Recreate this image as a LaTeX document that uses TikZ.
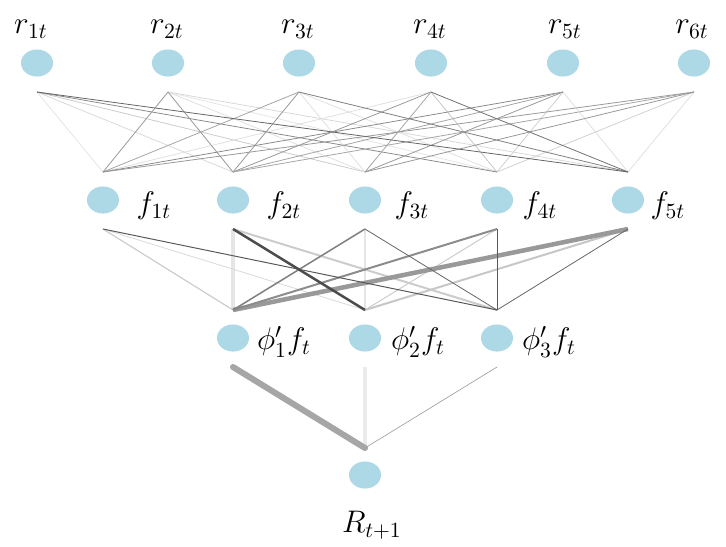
\documentclass[tikz,border=0pt]{standalone}
\usetikzlibrary{shapes.geometric}
\definecolor{nodeblue}{RGB}{173,216,230}
\begin{document}
\begin{tikzpicture}[x=0.4615pt,y=-0.4615pt,
  neuron/.style={ellipse, fill=nodeblue, minimum width=14.8pt, minimum height=12.5pt, inner sep=0pt},
  lbl/.style={inner sep=0pt, font=\fontsize{14.4}{17}\selectfont},
  rf/.style={line width=0.37pt}]
\useasboundingbox (0,0) rectangle (726,546);
% input layer
\foreach \i/\x in {1/37,2/168,3/299,4/431,5/563,6/694}{
  \node[neuron] (r\i) at (\x,63) {};
  \coordinate (r\i b) at (\x,92);
}
\node[lbl] (lr1) at (31,29) {$r_{1t}$};
\node[lbl] (lr2) at (167,29) {$r_{2t}$};
\node[lbl] (lr3) at (298,29) {$r_{3t}$};
\node[lbl] (lr4) at (430,29) {$r_{4t}$};
\node[lbl] (lr5) at (565,29) {$r_{5t}$};
\node[lbl] (lr6) at (692,29) {$r_{6t}$};
% factor layer
\foreach \i/\x in {1/103,2/233,3/365,4/497,5/628}{
  \node[neuron] (f\i) at (\x,200) {};
  \coordinate (f\i a) at (\x,172);
  \coordinate (f\i b) at (\x,229);
}
\node[lbl] (lf1) at (154,206) {$f_{1t}$};
\node[lbl] (lf2) at (284,206) {$f_{2t}$};
\node[lbl] (lf3) at (412,206) {$f_{3t}$};
\node[lbl] (lf4) at (540,206) {$f_{4t}$};
\node[lbl] (lf5) at (668,206) {$f_{5t}$};
% phi layer
\foreach \i/\x in {1/233,2/365,3/497}{
  \node[neuron] (p\i) at (\x,338) {};
  \coordinate (p\i a) at (\x,310);
  \coordinate (p\i b) at (\x,367);
}
\node[lbl] (lp1) at (284,342) {$\phi_1'f_t$};
\node[lbl] (lp2) at (418,342) {$\phi_2'f_t$};
\node[lbl] (lp3) at (549,342) {$\phi_3'f_t$};
% output
\node[neuron] (R) at (365,475) {};
\coordinate (Ra) at (365,448);
\node[lbl] (lR) at (372,525) {$R_{t+1}$};
% r -> f edges
\foreach \i/\j/\c in {
  1/1/10, 1/2/15, 1/3/20, 2/4/10, 2/3/12, 2/5/15, 3/3/12, 3/4/12, 4/1/12, 4/4/22,
  5/5/12, 6/5/12, 5/4/18, 6/4/18,
  1/4/45, 2/1/40, 2/2/40, 3/1/35, 3/2/40, 4/2/40, 4/3/35,
  5/1/45, 5/2/35, 5/3/40, 6/1/40, 6/2/35, 6/3/40,
  3/5/50, 4/5/55, 1/5/60}{
  \draw[rf, black!\c] (r\i b) -- (f\j a);
}
% f -> phi edges
\foreach \i/\j/\c/\w in {
  2/1/10/1.85, 3/2/10/0.7, 1/2/15/0.37, 1/1/20/0.55, 2/3/20/0.92, 4/2/20/0.46, 5/2/22/0.92,
  5/1/40/2.1, 4/1/45/0.92, 3/1/50/0.7, 3/3/60/0.37, 5/3/60/0.37, 4/3/65/0.37, 1/3/65/0.46,
  2/2/70/1.15}{
  \draw[black!\c, line width=\w pt] (f\i b) -- (p\j a);
}
% phi -> R edges
\draw[black!8, line width=1.4pt] (p2b) -- (Ra);
\draw[black!40, line width=0.28pt] (p3b) -- (Ra);
\draw[black!35, line width=2.8pt, line cap=round] (p1b) -- (Ra);
\end{tikzpicture}
\end{document}
